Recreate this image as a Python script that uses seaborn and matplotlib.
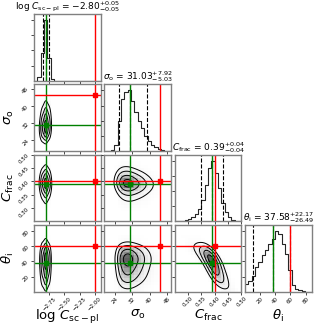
import numpy as np
import pandas as pd
import matplotlib
matplotlib.use("Agg")
import matplotlib.pyplot as plt
import seaborn as sns
from statistics import NormalDist

# parameters of the corner plot
labels = [r"log $C_{\rm sc-pl}$", r"$\sigma_{\rm o}$", r"$C_{\rm frac}$", r"$\theta_{\rm i}$"]
ranges = [(-3.0, -1.9), (19.0, 50.0), (0.25, 0.50), (0.0, 88.0)]
ticks = [[-2.75, -2.50, -2.25, -2.00], [24, 32, 40, 48],
         [0.30, 0.35, 0.40, 0.45, 0.50], [20, 40, 60, 80]]

# summary values from the titles
medians = [-2.80, 31.03, 0.39, 37.58]
err_hi = [0.05, 7.92, 0.04, 22.17]
err_lo = [0.05, 5.03, 0.04, 26.49]
truth_red = [-2.00, 45.0, 0.40, 60.0]

# 1D marginal histograms (20 bins over each range, relative heights)
hist_logc = [0, 0.06, 0.45, 1.0, 0.38, 0.03, 0, 0, 0, 0, 0, 0, 0, 0, 0, 0, 0, 0, 0, 0]
hist_sigma = [0, 0, 0.02, 0.1, 0.5, 0.85, 0.98, 1.0, 0.82, 0.65, 0.5, 0.38, 0.25, 0.17,
              0.1, 0.06, 0.03, 0.015, 0.01, 0]
hist_cfrac = [0, 0, 0.01, 0.02, 0.04, 0.07, 0.12, 0.2, 0.35, 0.6, 0.88, 1.0, 0.8, 0.55,
              0.3, 0.15, 0.07, 0.03, 0.01, 0]
hist_theta = [0.12, 0.17, 0.26, 0.4, 0.49, 0.6, 0.68, 0.78, 0.86, 1.0, 0.95, 0.78, 0.62,
              0.35, 0.11, 0.05, 0.03, 0.01, 0, 0]
hists = [hist_logc, hist_sigma, hist_cfrac, hist_theta]

# correlation (row, col)
rho = {(1, 0): 0.1, (2, 0): 0.0, (3, 0): 0.0, (2, 1): -0.1, (3, 1): 0.0, (3, 2): -0.78}

nbins = 20
levels = [0.135, 0.325, 0.607, 0.882]


def centers(r):
    w = (r[1] - r[0]) / nbins
    return r[0] + (np.arange(nbins) + 0.5) * w


def to_z(h):
    h = np.asarray(h, float)
    u = (np.cumsum(h) - h / 2) / h.sum()
    u = np.clip(u, 1e-3, 1 - 1e-3)
    return np.array([NormalDist().inv_cdf(v) for v in u])


def joint(hx, hy, r):
    zx, zy = np.meshgrid(to_z(hx), to_z(hy), indexing="ij")
    cop = np.exp(-(r ** 2 * (zx ** 2 + zy ** 2) - 2 * r * zx * zy) / (2 * (1 - r ** 2)))
    return np.outer(hx, hy) * cop


fig, axes = plt.subplots(4, 4, figsize=(3.16, 3.28), dpi=100)
fig.subplots_adjust(left=0.1076, right=0.9864, bottom=0.1107, top=0.9573,
                    wspace=0.052, hspace=0.052)

for i in range(4):
    for j in range(4):
        ax = axes[i, j]
        if j > i:
            ax.set_visible(False)
            continue
        if i == j:
            h = np.asarray(hists[i], float)
            sns.histplot(x=centers(ranges[i]), weights=h, bins=nbins, binrange=ranges[i],
                         element="step", fill=False, color="0.15", linewidth=0.8, ax=ax)
            for q in [medians[i] - err_lo[i], medians[i], medians[i] + err_hi[i]]:
                ax.axvline(q, ls="--", color="k", lw=0.8)
            ax.axvline(medians[i], color="green", lw=1)
            ax.axvline(truth_red[i], color="red", lw=1)
            ax.set_ylim(0, 1.1 * h.max())
            ax.set_yticks(np.linspace(0, h.max(), 5)[1:])
            ax.set_yticklabels([])
            title = "{0} = ${{{1:.2f}}}_{{-{2:.2f}}}^{{+{3:.2f}}}$".format(
                labels[i], medians[i], err_lo[i], err_hi[i])
            ax.set_title(title, fontsize=6.5, pad=2)
        else:
            cx, cy = centers(ranges[j]), centers(ranges[i])
            X, Y = np.meshgrid(cx, cy, indexing="ij")
            W = joint(hists[j], hists[i], rho[(i, j)])
            df = pd.DataFrame({"x": X.ravel(), "y": Y.ravel(), "w": W.ravel()})
            df = df[df.w > 0]
            sns.histplot(data=df, x="x", y="y", weights="w", bins=nbins,
                         binrange=(ranges[j], ranges[i]), cmap="Greys", ax=ax,
                         vmin=0, vmax=1.4 * W.max())
            bw = 1.0 if j == 0 else 0.7
            sns.kdeplot(data=df, x="x", y="y", weights="w", levels=levels, color="k",
                        linewidths=0.7, bw_adjust=bw, ax=ax)
            ax.axvline(medians[j], color="green", lw=1)
            ax.axhline(medians[i], color="green", lw=1)
            ax.plot(medians[j], medians[i], "s", color="green", ms=3)
            ax.axvline(truth_red[j], color="red", lw=1)
            ax.axhline(truth_red[i], color="red", lw=1)
            ax.plot(truth_red[j], truth_red[i], "s", color="red", ms=3)
            ax.set_ylim(ranges[i])
            ax.set_yticks(ticks[i])
        ax.set_xlim(ranges[j])
        ax.set_xticks(ticks[j])
        ax.set_xlabel("")
        ax.set_ylabel("")
        ax.tick_params(labelsize=4, length=2, width=0.5, pad=1)
        for s in ax.spines.values():
            s.set_color("0.5")
            s.set_linewidth(1.0)
        if i == 3:
            for lab in ax.get_xticklabels():
                lab.set_rotation(45)
            ax.set_xlabel(labels[j], fontsize=9.5)
            ax.xaxis.set_label_coords(0.5, -0.25)
        else:
            ax.set_xticklabels([])
        if j == 0 and i > 0:
            for lab in ax.get_yticklabels():
                lab.set_rotation(45)
            ax.set_ylabel(labels[i], fontsize=9.5)
            ax.yaxis.set_label_coords(-0.27, 0.5)
        elif i != j:
            ax.set_yticklabels([])

fig.savefig("out.png", dpi=100)
